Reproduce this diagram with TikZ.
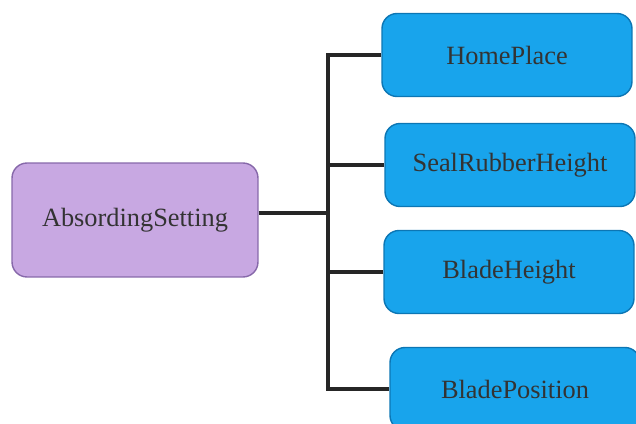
\documentclass[tikz,border=0pt]{standalone}
\usepackage{fontspec}
\setmainfont{Liberation Serif}
\definecolor{lavender}{RGB}{200,168,226}
\definecolor{lavenderline}{RGB}{135,105,170}
\definecolor{skyblue}{RGB}{24,164,236}
\definecolor{skyline}{RGB}{12,118,180}
\begin{document}
\begin{tikzpicture}[x=0.02cm,y=-0.02cm,
	box/.style={rectangle,rounded corners=0.3cm,line width=0.8pt,
		minimum width=5cm,minimum height=1.66cm,
		font=\fontsize{15}{18}\selectfont,text=black!80},
	parent/.style={box,fill=lavender,draw=lavenderline,
		minimum width=4.92cm,minimum height=2.28cm},
	leaf/.style={box,fill=skyblue,draw=skyline},
	link/.style={line width=2.2pt,black!85}]
\useasboundingbox (0,0) rectangle (636,423);
\clip (0,0) rectangle (636,423);
\node[parent] (absording) at (135,220) {AbsordingSetting};
\node[leaf] (home) at (507,55) {HomePlace};
\node[leaf] (seal) at (510,165) {SealRubberHeight};
\node[leaf] (blade) at (509,272) {BladeHeight};
\node[leaf] (bladepos) at (515,389) {BladePosition};
\coordinate (fork) at (328,213);
% connectors
\draw[link] (fork -| absording.east) -- (fork);
\draw[link] (home.west) -| (fork) |- (bladepos.west);
\draw[link] (seal.west) -- (seal.west -| fork);
\draw[link] (blade.west) -- (blade.west -| fork);
\end{tikzpicture}
\end{document}
